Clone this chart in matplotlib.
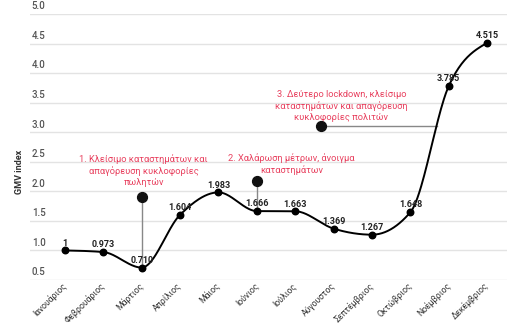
import matplotlib
matplotlib.use("Agg")
import matplotlib.pyplot as plt
import matplotlib.transforms as mtransforms
import numpy as np

plt.rcParams['font.family'] = ['Roboto', 'DejaVu Sans']

# δεδομένα
months = ["Ιανουάριος", "Φεβρουάριος", "Μάρτιος", "Απρίλιος", "Μάιος", "Ιούνιος",
          "Ιούλιος", "Αύγουστος", "Σεπτέμβριος", "Οκτώβριος", "Νοέμβριος", "Δεκέμβριος"]
gmv = [1.0, 0.973, 0.710, 1.604, 1.983, 1.666, 1.663, 1.369, 1.267, 1.648, 3.785, 4.515]
value_labels = ["1", "0.973", "0.710", "1.604", "1.983", "1.666", "1.663",
                "1.369", "1.267", "1.648", "3.785", "4.515"]
yticks = [0.5, 1.0, 1.5, 2.0, 2.5, 3.0, 3.5, 4.0, 4.5, 5.0]

notes = ["1. Κλείσιμο καταστημάτων και\nαπαγόρευση κυκλοφορίες\nπωλητών",
         "2. Χαλάρωση μέτρων, άνοιγμα\nκαταστημάτων",
         "3. Δεύτερο lockdown, κλείσιμο\nκαταστημάτων και απαγόρευση\nκυκλοφορίες πολιτών"]
note_month = [2, 5, None]
note_marker = [(2, 1.90), (5, 2.175), (6.67, 3.11)]
note_text_pos = [(2.05, 2.07), (5.9, 2.27), (7.2, 3.17)]

RED = "#e8415f"


def monotone_x(xs, ys, n=40):
    # d3.curveMonotoneX
    xs = np.asarray(xs, float)
    ys = np.asarray(ys, float)
    h = np.diff(xs)
    s = np.diff(ys) / h
    t = np.zeros(len(xs))
    for i in range(1, len(xs) - 1):
        p = (s[i - 1] * h[i] + s[i] * h[i - 1]) / (h[i - 1] + h[i])
        t[i] = (np.sign(s[i - 1]) + np.sign(s[i])) * min(abs(s[i - 1]), abs(s[i]), 0.5 * abs(p))
    t[0] = (3 * s[0] - t[1]) / 2
    t[-1] = (3 * s[-1] - t[-2]) / 2
    cx, cy = [], []
    for i in range(len(xs) - 1):
        u = np.linspace(0, 1, n)
        h00 = 2 * u**3 - 3 * u**2 + 1
        h10 = u**3 - 2 * u**2 + u
        h01 = -2 * u**3 + 3 * u**2
        h11 = u**3 - u**2
        cx.append(xs[i] + u * h[i])
        cy.append(h00 * ys[i] + h10 * h[i] * t[i] + h01 * ys[i + 1] + h11 * h[i] * t[i + 1])
    return np.concatenate(cx), np.concatenate(cy)


x = np.arange(len(months))
fig = plt.figure(figsize=(5.25, 3.25), dpi=100)
ax = fig.add_axes([0.057, 0.1385, 0.909, 0.818])
ax.set_xlim(-0.912, 11.52)
ax.set_ylim(0.5, 5.0)

for yv in yticks:
    ax.axhline(yv, color="#e3e3e3", lw=1.0, zorder=0)
    ax.text(0.004, yv, f"{yv:.1f}", transform=mtransforms.offset_copy(
        ax.get_yaxis_transform(), fig=fig, y=2, units="points"),
        ha="left", va="bottom", fontsize=7, fontweight="medium", color="#555555")

cx, cy = monotone_x(x, gmv)
ax.plot(cx, cy, color="black", lw=1.4, zorder=3)
ax.scatter(x, gmv, s=22, color="black", zorder=4)
for xi, yi, lab in zip(x, gmv, value_labels):
    ax.annotate(lab, (xi, yi), xytext=(0, 2), textcoords="offset points",
                ha="center", va="bottom", fontsize=6.5, fontweight="bold",
                color="#222222", zorder=5)

# annotations
for k in range(3):
    mx, my = note_marker[k]
    if note_month[k] is not None:
        ax.plot([mx, mx], [my, gmv[note_month[k]]], color="#888888", lw=1.0, zorder=2)
    else:
        seg = (cx >= 9) & (cx <= 10)
        cross = np.interp(my, cy[seg], cx[seg])
        ax.plot([mx, cross], [my, my], color="#888888", lw=1.0, zorder=2)
    ax.scatter([mx], [my], s=50, color="#111111", zorder=4)
    tx, ty = note_text_pos[k]
    ax.text(tx, ty, notes[k], ha="center", va="bottom", fontsize=6.7,
            color=RED, linespacing=1.3)

ax.set_xticks(x)
ax.set_xticklabels(months, rotation=45, ha="right", va="center",
                   rotation_mode="anchor", fontsize=6.2, color="#333333")
ax.tick_params(axis="x", length=0, pad=3)
ax.set_yticks([])
for sp in ax.spines.values():
    sp.set_visible(False)

fig.text(0.038, 0.47, "GMV index", rotation=90, ha="center", va="center",
         fontsize=6.5, fontweight="bold", color="#333333")

fig.savefig("out.png", dpi=100)
